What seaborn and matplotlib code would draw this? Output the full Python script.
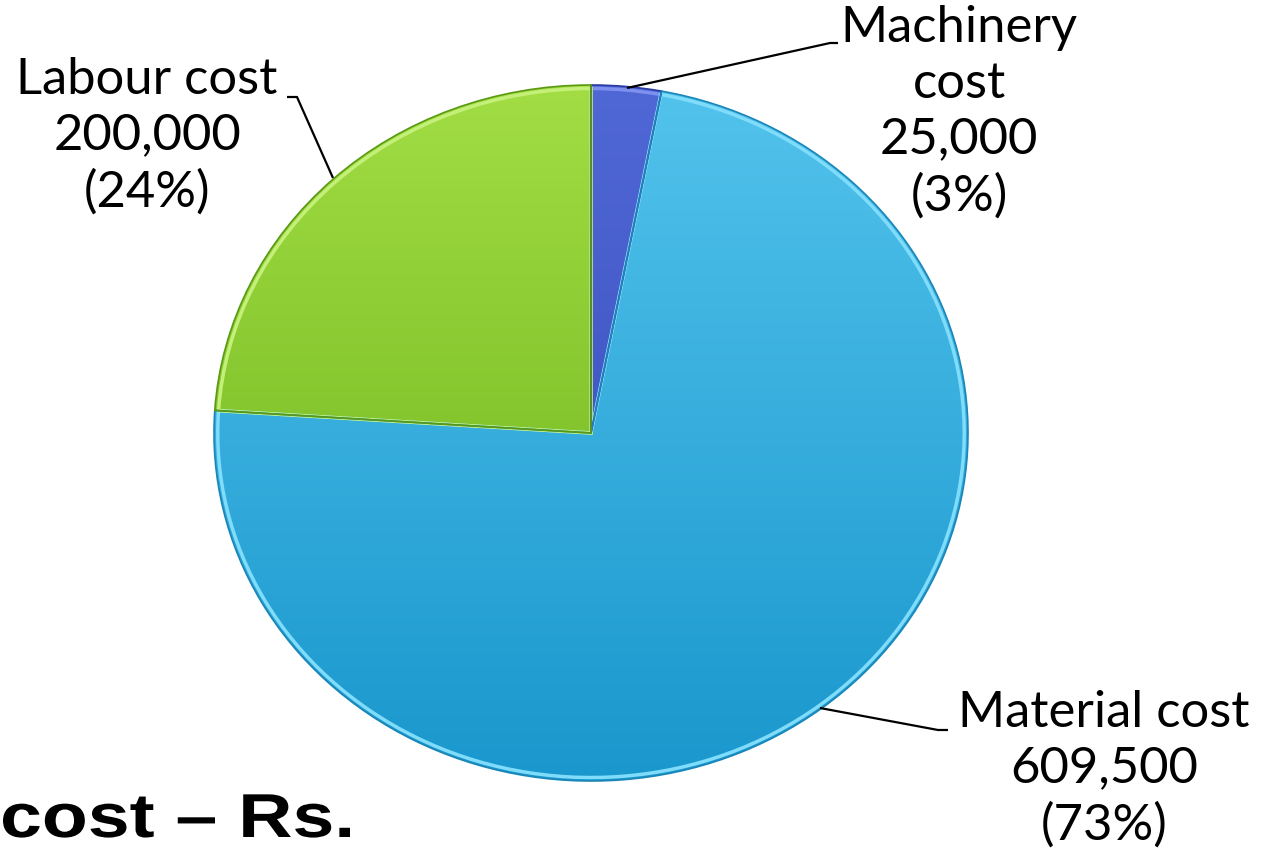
import numpy as np
import matplotlib
matplotlib.use("Agg")
import matplotlib.pyplot as plt
import seaborn as sns
from matplotlib.colors import LinearSegmentedColormap
from matplotlib.textpath import TextPath
from matplotlib.patches import PathPatch
from matplotlib.font_manager import FontProperties
from matplotlib.transforms import Affine2D, IdentityTransform

# ---- data ----
categories = ["Machinery\ncost", "Material cost", "Labour cost"]
values = [25000, 609500, 200000]
value_labels = ["25,000", "609,500", "200,000"]
pct_labels = ["(3%)", "(73%)", "(24%)"]
footer = "cost \u2013 Rs."

# ---- style ----
sns.set_theme(style="white")
plt.rcParams['font.family'] = ['Lato', 'DejaVu Sans']

W, H = 1262, 850
fig = plt.figure(figsize=(W / 100, H / 100), dpi=100)
ax = fig.add_axes([0, 0, 1, 1])

# pie geometry in pixels (ellipse)
cx, cy, rx, ry = 591, 433, 377, 348


def px(x, y):
    return (x - cx) / rx, (cy - y) / ry


grad_colors = [
    ("#5068d6", "#3346b6"),   # machinery
    ("#52c3ec", "#1a97cd"),   # material
    ("#a2dd44", "#66ad16"),   # labour
]
edge_colors = ["#7e90ee", "#7fdcfb", "#c4f07a"]

wedges, _ = ax.pie(values, startangle=90, counterclock=False, radius=1,
                   center=(0, 0), colors=[g[1] for g in grad_colors],
                   wedgeprops=dict(linewidth=0))

grad = np.linspace(0, 1, 256).reshape(-1, 1)
for w, (top, bot) in zip(wedges, grad_colors):
    cmap = LinearSegmentedColormap.from_list("g", [top, bot])
    im = ax.imshow(grad, extent=[-1, 1, -1, 1], origin="upper", cmap=cmap,
                   aspect="auto", zorder=2, interpolation="bilinear")
    im.set_clip_path(w)
    w.set_zorder(1)

# bevel outlines
wedges2, _ = ax.pie(values, startangle=90, counterclock=False, radius=0.99,
                    center=(0, 0), colors=["none"] * 3,
                    wedgeprops=dict(linewidth=2.5, fill=False))
for w, ec in zip(wedges2, edge_colors):
    w.set_edgecolor(ec)
    w.set_zorder(3)
# outer thin darker rim
wedges3, _ = ax.pie(values, startangle=90, counterclock=False, radius=1.0,
                    center=(0, 0), colors=["none"] * 3,
                    wedgeprops=dict(linewidth=1.2, fill=False))
for w, c in zip(wedges3, ["#2a3aa0", "#1a86b8", "#5a9a12"]):
    w.set_edgecolor(c)
    w.set_zorder(3.5)

ax.set_aspect("auto")
ax.set_xlim(-cx / rx, (W - cx) / rx)
ax.set_ylim((cy - H) / ry, cy / ry)
ax.axis("off")

# ---- labels ----
label_pos = [(959, 112), (1104, 769), (147, 136)]
leaders = [
    [(627, 88), (830, 43), (838, 43)],
    [(820, 708), (938, 730), (948, 730)],
    [(333, 178), (297, 97), (287, 97)],
]
for cat, v, p, (lx, ly), pts in zip(categories, value_labels, pct_labels,
                                     label_pos, leaders):
    fig.text(lx / W, 1 - ly / H, f"{cat}\n{v}\n{p}", ha="center", va="center",
             multialignment="center", fontsize=36.5, linespacing=1.27,
             color="black")
    xs, ys = zip(*[px(a, b) for a, b in pts])
    ax.plot(xs, ys, color="black", lw=1.6, zorder=5, solid_capstyle="butt")

# footer text (horizontally stretched bold sans, like the source slide)
fp = FontProperties(family=["Liberation Sans", "DejaVu Sans"], weight="bold")
tp = TextPath((0, 0), footer, size=100, prop=fp)
ext = tp.get_extents()
em_px = 62.0
sy = em_px / 100
sx = 347 / ext.width
trans = Affine2D().translate(-ext.x0, 0).scale(sx, sy).translate(3, H - 837)
fig.add_artist(PathPatch(tp, transform=trans + IdentityTransform(),
                         facecolor="black", edgecolor="none"))

fig.savefig("out.png", dpi=100, facecolor="white")
